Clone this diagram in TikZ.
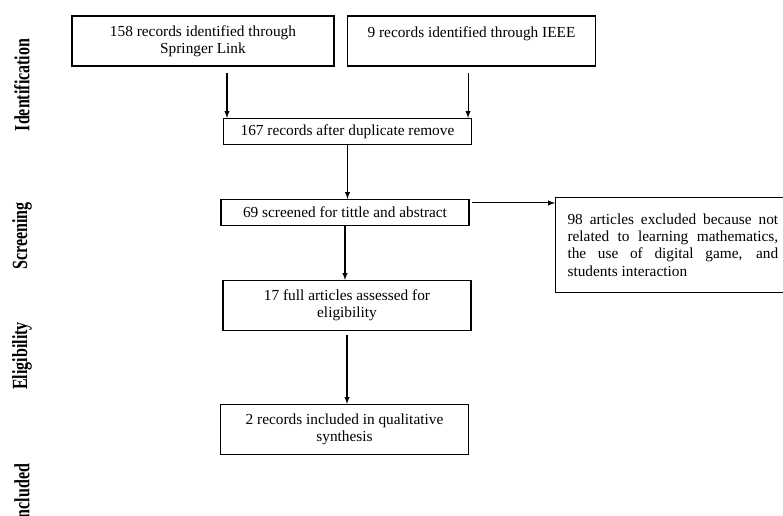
\documentclass[tikz,border=0pt]{standalone}
\usepackage{fontspec}
\setmainfont{Liberation Serif}
\usetikzlibrary{shapes,arrows,positioning,calc}

\begin{document}
\begin{tikzpicture}[
    x=0.75pt, y=-0.75pt,
    box/.style={draw, rectangle, line width=0.8pt, minimum width=186pt, minimum height=37.5pt, align=center, inner sep=2pt, font=\fontsize{11.5}{13}\selectfont},
    thinbox/.style={box, minimum height=19.5pt},
    phase/.style={rotate=90, yscale=1.35, font=\bfseries\fontsize{12}{14}\selectfont},
    flow/.style={-latex, line width=0.8pt}
]
    \useasboundingbox (0,0) rectangle (783,516);

    % phases
    \node[phase] (ident) at (22,85) {Identification};
    \node[phase] (screening) at (22,236) {Screening};
    \node[phase] (eligibility) at (22,356) {Eligibility};
    \node[phase] (included) at (22,494) {Included};

    % boxes
    \node[box, minimum width=196.5pt] (springer) at (203,41) {158 records identified through\\Springer Link};
    \node[box] (ieee) at (471.5,41) {9 records identified through IEEE\\~};
    \node[thinbox] (dup) at (347.5,131.5) {167 records after duplicate remove};
    \node[thinbox] (screen) at (345,212.5) {69 screened for tittle and abstract};
    \node[box] (elig) at (347,305.5) {17 full articles assessed for\\eligibility};
    \node[box] (incl) at (344.5,429.5) {2 records included in qualitative\\synthesis};
    \node[box, anchor=north west, minimum width=0pt, text width=158pt, align=justify, inner xsep=9pt, minimum height=71pt] (excl) at (555,197)
        {\hyphenpenalty=10000 98 articles excluded because not\linebreak related to learning mathematics,\linebreak the use of digital game, and\linebreak students interaction};

    % arrows
    \draw[flow, shorten <=5pt] ($(springer.south -| dup.west)+(4,0)$) -- ($(dup.north west)+(4,0)$);
    \draw[flow, shorten <=5pt] ($(ieee.south -| dup.east)+(-4,0)$) -- ($(dup.north east)+(-4,0)$);
    \draw[flow] (dup.south) -- (dup.south |- screen.north);
    \coordinate (out) at ($(screen.north east)+(2,4)$);
    \draw[flow] (out) -- (out -| excl.west);
    \draw[flow] (screen.south) -- (screen.south |- elig.north);
    \draw[flow, shorten <=3pt] (elig.south) -- (elig.south |- incl.north);
\end{tikzpicture}
\end{document}
